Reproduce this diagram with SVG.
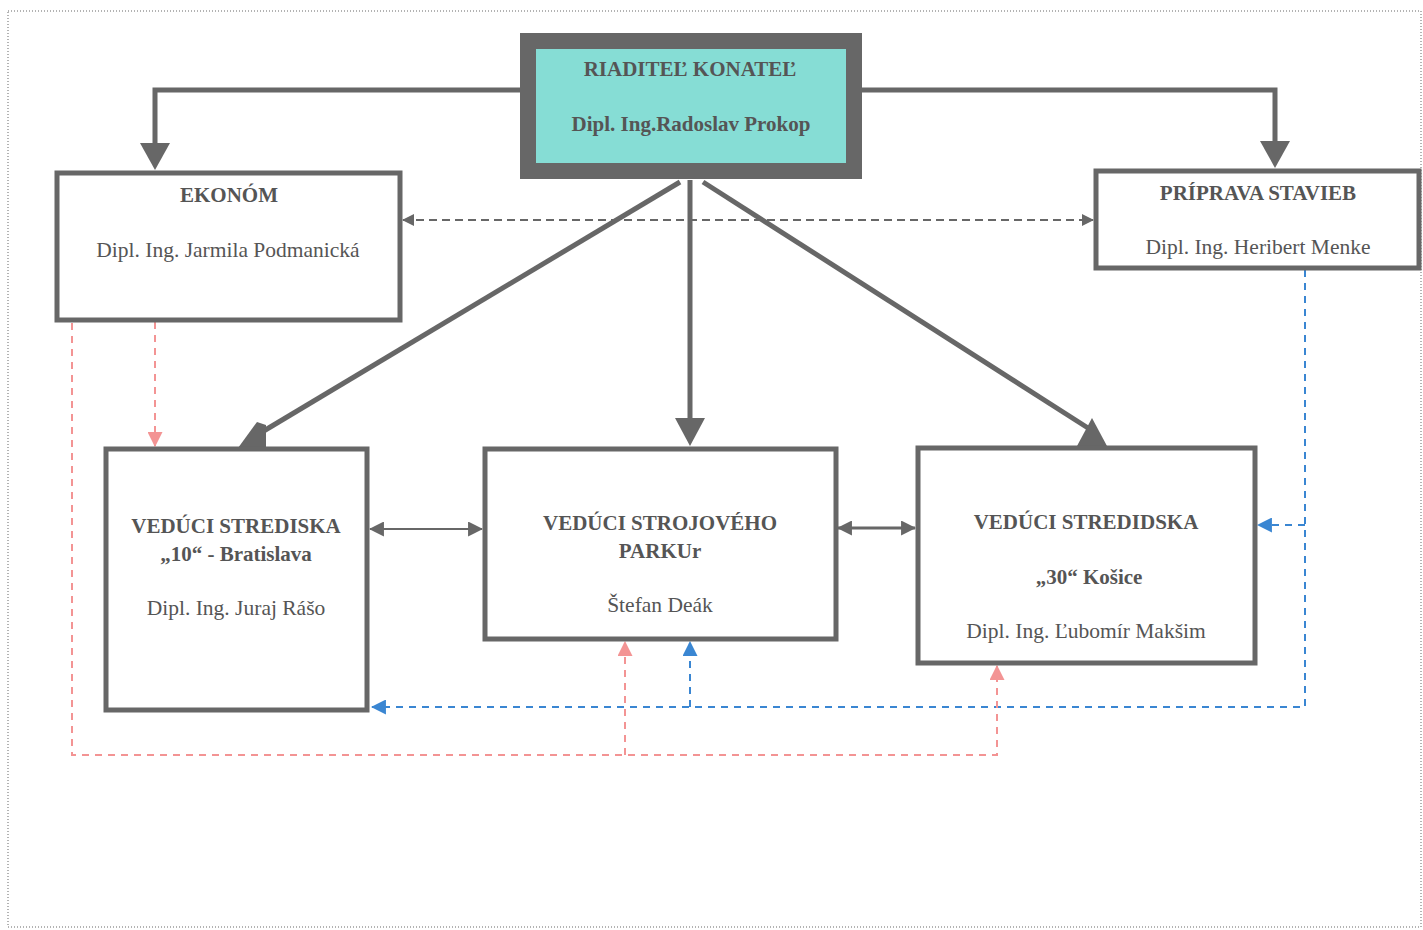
<svg xmlns="http://www.w3.org/2000/svg" width="1423" height="930" viewBox="0 0 1423 930">
<defs>
<style>
.box{fill:#fff;stroke:#676767;stroke-width:5}
.t{font-family:"Liberation Serif","Times New Roman",serif;fill:#555;text-anchor:middle}
.b{font-weight:bold;font-size:21px}
.n{font-size:21.5px}
.solid{fill:none;stroke:#676767;stroke-width:5}
.gd{fill:none;stroke:#676767;stroke-width:2;stroke-dasharray:8 5}
.bd{fill:none;stroke:#3a86d2;stroke-width:2;stroke-dasharray:7 6}
.pd{fill:none;stroke:#f39494;stroke-width:2;stroke-dasharray:7 6}
.head{fill:#676767}
</style>
<marker id="ag" viewBox="0 0 12 12" refX="11" refY="6" markerWidth="12" markerHeight="12" markerUnits="userSpaceOnUse" orient="auto-start-reverse"><path d="M0,0 L12,6 L0,12 z" fill="#676767"/></marker>
<marker id="ag2" viewBox="0 0 14 14" refX="13" refY="7" markerWidth="15" markerHeight="15" markerUnits="userSpaceOnUse" orient="auto-start-reverse"><path d="M0,0 L14,7 L0,14 z" fill="#676767"/></marker>
<marker id="ab" viewBox="0 0 14 14" refX="13" refY="7" markerWidth="15" markerHeight="15" markerUnits="userSpaceOnUse" orient="auto"><path d="M0,0 L14,7 L0,14 z" fill="#3a86d2"/></marker>
<marker id="ap" viewBox="0 0 14 14" refX="13" refY="7" markerWidth="15" markerHeight="15" markerUnits="userSpaceOnUse" orient="auto"><path d="M0,0 L14,7 L0,14 z" fill="#f39494"/></marker>
</defs>
<rect width="1423" height="930" fill="#fff"/>
<rect x="8" y="11" width="1413" height="916" fill="none" stroke="#9a9a9a" stroke-width="1.5" stroke-dasharray="1 2"/>

<g id="connectors">
<path class="solid" d="M522,90 H155 V145"/>
<polygon class="head" points="140,143 170,143 155,170"/>
<path class="solid" d="M860,90 H1275 V143"/>
<polygon class="head" points="1260,141 1290,141 1275,168"/>
<path class="solid" d="M690,180 V420"/>
<polygon class="head" points="675,418 705,418 690,446"/>
<path class="solid" d="M680,182 L262,432"/>
<polygon class="head" points="238,448 257,422 266,425 266,448"/>
<path class="solid" d="M703,182 L1088,428"/>
<polygon class="head" points="1077,446 1092,418 1107,446"/>
<path class="gd" d="M403,220 H1093" marker-start="url(#ag)" marker-end="url(#ag)"/>
<path d="M370,529 H482" fill="none" stroke="#676767" stroke-width="2" marker-start="url(#ag2)" marker-end="url(#ag2)"/>
<path d="M838,528 H915" fill="none" stroke="#676767" stroke-width="3" marker-start="url(#ag2)" marker-end="url(#ag2)"/>
<path class="bd" d="M1305,270 V707 H372" marker-end="url(#ab)"/>
<path class="bd" d="M1305,525 H1258" marker-end="url(#ab)"/>
<path class="bd" d="M690,707 V642" marker-end="url(#ab)"/>
<path class="pd" d="M155,322 V446" marker-end="url(#ap)"/>
<path class="pd" d="M72,323 V755 H997 V666" marker-end="url(#ap)"/>
<path class="pd" d="M625,755 V642" marker-end="url(#ap)"/>
</g>

<g id="riaditel">
<rect x="528" y="41" width="326" height="130" fill="#86ddd5" stroke="#676767" stroke-width="16"/>
<text class="t b" x="690" y="76">RIADITEĽ KONATEĽ</text>
<text class="t b" x="691" y="131">Dipl. Ing.Radoslav Prokop</text>
</g>

<g id="ekonom">
<rect class="box" x="57" y="173" width="343" height="147"/>
<text class="t b" x="229" y="202">EKONÓM</text>
<text class="t n" x="228" y="257">Dipl. Ing. Jarmila Podmanická</text>
</g>

<g id="priprava">
<rect class="box" x="1096" y="171" width="323" height="97"/>
<text class="t b" x="1258" y="200">PRÍPRAVA STAVIEB</text>
<text class="t n" x="1258" y="254">Dipl. Ing. Heribert Menke</text>
</g>

<g id="stredisko10">
<rect class="box" x="106" y="449" width="261" height="261"/>
<text class="t b" x="236" y="533">VEDÚCI STREDISKA</text>
<text class="t b" x="236" y="561">„10“ - Bratislava</text>
<text class="t n" x="236" y="615">Dipl. Ing. Juraj Rášo</text>
</g>

<g id="strojovy">
<rect class="box" x="485" y="449" width="351" height="190"/>
<text class="t b" x="660" y="530">VEDÚCI STROJOVÉHO</text>
<text class="t b" x="660" y="558">PARKUr</text>
<text class="t n" x="660" y="612">Štefan Deák</text>
</g>

<g id="stredisko30">
<rect class="box" x="918" y="448" width="337" height="215"/>
<text class="t b" x="1086" y="529">VEDÚCI STREDIDSKA</text>
<text class="t b" x="1089" y="584">„30“ Košice</text>
<text class="t n" x="1086" y="638">Dipl. Ing. Ľubomír Makšim</text>
</g>
</svg>
